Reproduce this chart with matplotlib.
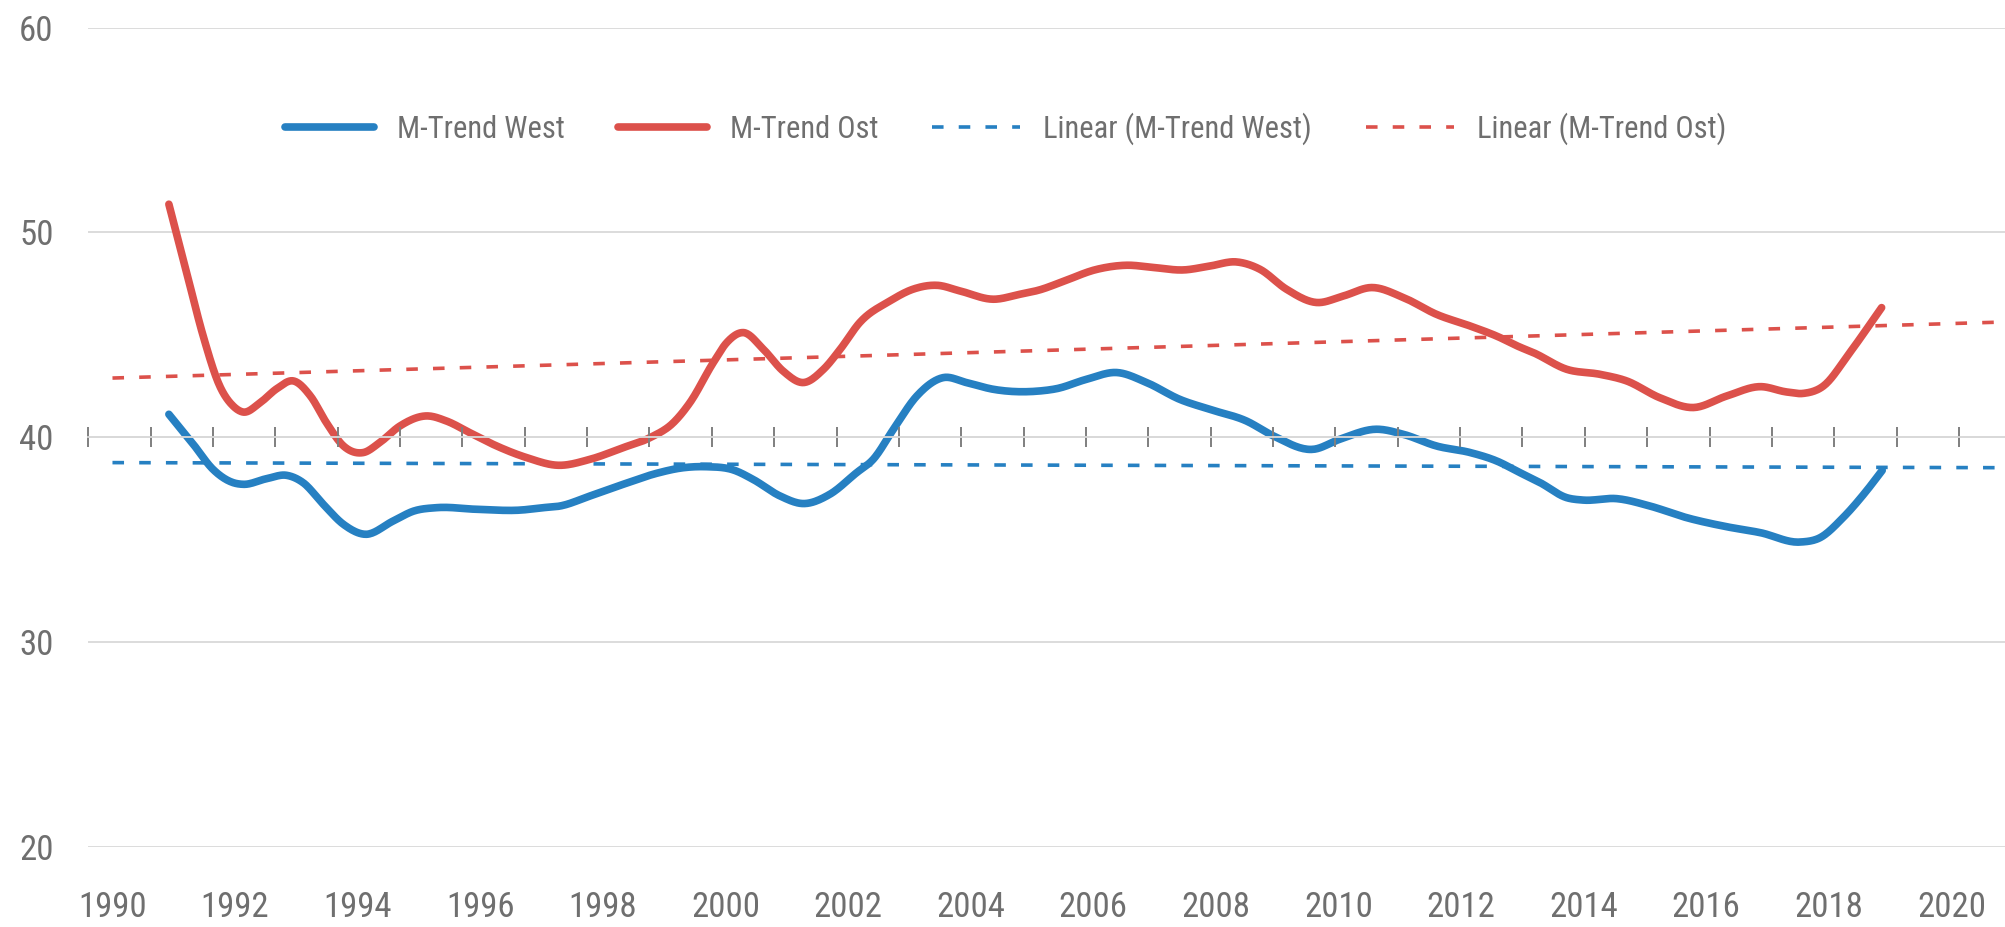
import numpy as np
import matplotlib.pyplot as plt

# Werte (Jahr, Wert)
west_years = [1990.92, 1991.32, 1991.64, 1991.97, 1992.13, 1992.52, 1992.84, 1993.11, 1993.44, 1993.77,
              1994.12, 1994.58, 1994.91, 1995.29, 1995.94, 1996.65, 1997.03, 1997.30, 1997.79, 1998.33,
              1998.88, 1999.31, 1999.69, 2000.13, 2000.45, 2000.89, 2001.27, 2001.70, 2002.14, 2002.41,
              2002.74, 2003.12, 2003.55, 2003.93, 2004.37, 2005.13, 2005.40, 2005.89, 2006.38, 2006.87,
              2007.41, 2007.90, 2008.50, 2008.94, 2009.59, 2010.02, 2010.62, 2011.06, 2011.60, 2012.15,
              2012.58, 2012.96, 2013.29, 2013.72, 2013.99, 2014.54, 2015.08, 2015.68, 2016.33, 2016.88,
              2017.53, 2017.86, 2018.23, 2018.61, 2018.87]
west_vals = [41.12, 39.65, 38.43, 37.78, 37.70, 37.98, 38.14, 37.78, 36.72, 35.74,
             35.26, 35.91, 36.39, 36.56, 36.48, 36.44, 36.56, 36.64, 37.13, 37.70,
             38.24, 38.51, 38.56, 38.40, 37.94, 37.13, 36.76, 37.21, 38.27, 38.92,
             40.39, 42.01, 42.91, 42.67, 42.34, 42.26, 42.37, 42.83, 43.16, 42.67,
             41.85, 41.36, 40.79, 40.06, 39.41, 39.90, 40.39, 40.14, 39.57, 39.25,
             38.84, 38.27, 37.78, 37.05, 36.93, 37.00, 36.64, 36.07, 35.63, 35.34,
             34.88, 35.10, 36.07, 37.37, 38.38]

ost_years = [1990.92, 1991.21, 1991.48, 1991.75, 1991.97, 1992.13, 1992.41, 1992.68, 1992.95, 1993.23,
             1993.49, 1993.77, 1994.09, 1994.36, 1994.69, 1995.13, 1995.45, 1995.83, 1996.21, 1996.76,
             1997.27, 1997.79, 1998.33, 1998.77, 1999.15, 1999.42, 1999.80, 2000.02, 2000.29, 2000.62,
             2000.94, 2001.27, 2001.60, 2001.87, 2002.19, 2002.68, 2003.06, 2003.45, 2003.83, 2004.37,
             2004.80, 2005.13, 2005.46, 2006.06, 2006.55, 2006.98, 2007.47, 2007.90, 2008.34, 2008.72,
             2009.15, 2009.64, 2010.08, 2010.54, 2011.06, 2011.60, 2012.15, 2012.58, 2012.96, 2013.18,
             2013.72, 2014.27, 2014.70, 2015.24, 2015.79, 2016.33, 2016.88, 2017.31, 2017.58, 2017.91,
             2018.34, 2018.86]
ost_vals = [51.38, 48.04, 44.94, 42.50, 41.52, 41.23, 41.69, 42.37, 42.75, 42.01,
            40.71, 39.57, 39.25, 39.74, 40.55, 41.04, 40.79, 40.22, 39.65, 39.00,
            38.63, 38.92, 39.49, 39.98, 40.71, 41.69, 43.64, 44.62, 45.11, 44.29,
            43.23, 42.67, 43.32, 44.29, 45.60, 46.65, 47.23, 47.42, 47.14, 46.74,
            46.98, 47.20, 47.55, 48.20, 48.40, 48.29, 48.17, 48.36, 48.56, 48.20,
            47.23, 46.58, 46.90, 47.31, 46.82, 46.00, 45.43, 44.94, 44.40, 44.13,
            43.32, 43.07, 42.75, 41.93, 41.45, 42.01, 42.47, 42.21, 42.14, 42.50,
            44.13, 46.33]

# lineare Trends (Anfangs- und Endwert)
trend_years = [1990.0, 2021.0]
trend_west = [38.76, 38.51]
trend_ost = [42.89, 45.64]

labels = ["M-Trend West", "M-Trend Ost", "Linear (M-Trend West)", "Linear (M-Trend Ost)"]
blue = "#2680c2"
red = "#dc514b"
grey = "#6f6f6f"

plt.rcParams["font.family"] = ["Roboto Condensed", "DejaVu Sans"]


def smooth(xs, ys, n=20):
    # kubische Hermite-Kurve durch die Punkte (wie geglättete Linie)
    xs = np.asarray(xs, float)
    ys = np.asarray(ys, float)
    m = np.gradient(ys, xs)
    t = np.linspace(0, 1, n, endpoint=False)
    h00 = 2 * t**3 - 3 * t**2 + 1
    h10 = t**3 - 2 * t**2 + t
    h01 = -2 * t**3 + 3 * t**2
    h11 = t**3 - t**2
    px, py = [], []
    for i in range(len(xs) - 1):
        h = xs[i + 1] - xs[i]
        px.append(xs[i] + t * h)
        py.append(h00 * ys[i] + h10 * h * m[i] + h01 * ys[i + 1] + h11 * h * m[i + 1])
    px.append([xs[-1]])
    py.append([ys[-1]])
    return np.concatenate(px), np.concatenate(py)


fig = plt.figure(figsize=(20.06, 9.27), dpi=100)
ax = fig.add_axes([0.0440, 0.0866, 0.9560, 0.8835])

ax.plot(trend_years, trend_west, color=blue, lw=2.6, ls=(0, (3.2, 4.2)), zorder=2, label=labels[2])
ax.plot(trend_years, trend_ost, color=red, lw=2.6, ls=(0, (3.2, 4.2)), zorder=2, label=labels[3])

xw, yw = smooth(west_years, west_vals)
xo, yo = smooth(ost_years, ost_vals)
ax.plot(xw, yw, color=blue, lw=5.5, solid_capstyle="round", zorder=3, label=labels[0])
ax.plot(xo, yo, color=red, lw=5.5, solid_capstyle="round", zorder=3, label=labels[1])

ax.set_xlim(1989.605, 2020.889)
ax.set_ylim(20, 60)
ax.set_yticks([20, 30, 40, 50, 60])
ax.set_xticks(np.arange(1990, 2021, 2))
ax.grid(axis="y", color="#d9d9d9", lw=1.3)
ax.set_axisbelow(True)
for s in ax.spines.values():
    s.set_visible(False)
ax.tick_params(axis="both", length=0, labelsize=25, labelcolor=grey)
ax.tick_params(axis="x", pad=32)
ax.tick_params(axis="y", pad=25)

# Jahres-Teilstriche auf der Linie bei 40
ax2 = ax.twiny()
ax2.set_xlim(1990, 2020.754)
ax2.set_xticks(np.arange(1990, 2021, 1))
ax2.xaxis.set_ticks_position("bottom")
ax2.spines["bottom"].set_position(("data", 40))
ax2.spines["bottom"].set_color("#d9d9d9")
ax2.spines["bottom"].set_linewidth(1.3)
for k in ["top", "left", "right"]:
    ax2.spines[k].set_visible(False)
ax2.tick_params(axis="x", direction="inout", length=14, width=1.4, color="#7f7f7f",
                labelbottom=False, labeltop=False)

h, l = ax.get_legend_handles_labels()
order = [2, 3, 0, 1]
fig.legend([h[i] for i in order], [l[i] for i in order], loc="center",
           bbox_to_anchor=(0.5015, 0.861), ncol=4, frameon=False, fontsize=22,
           labelcolor=grey, handlelength=2.9, handletextpad=0.75, columnspacing=1.75)

fig.savefig("out.png", dpi=100)
